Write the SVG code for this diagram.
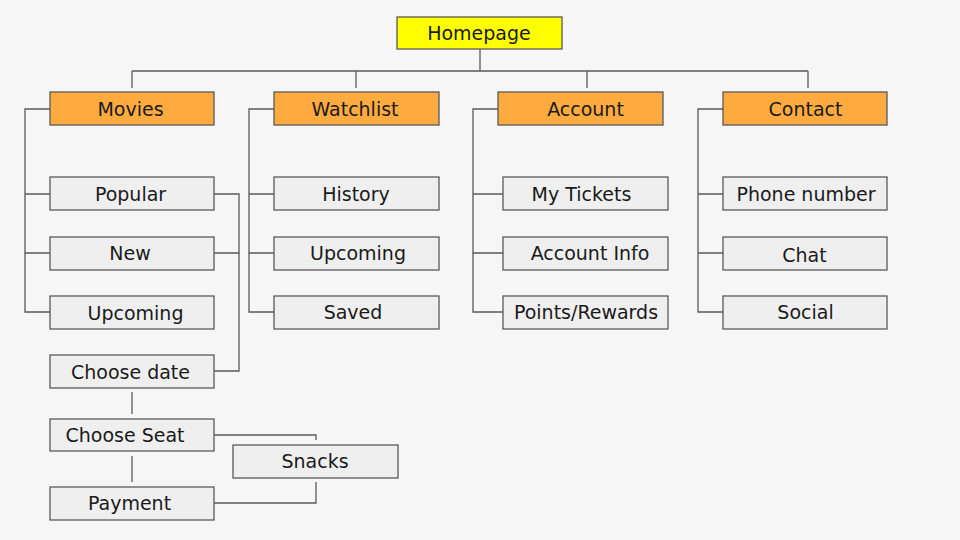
<svg xmlns="http://www.w3.org/2000/svg" width="960" height="540" viewBox="0 0 960 540">
<style>
.bg{fill:#f6f6f6}
.box{stroke:#595959;stroke-width:1.3}
.root{fill:#ffff00}
.cat{fill:#ffab40}
.item{fill:#efefef}
.lbl{font-family:"DejaVu Sans","Liberation Sans",sans-serif;font-size:19px;fill:#1a1a1a;text-anchor:middle}
#connectors path{fill:none;stroke:#595959;stroke-width:1.3}
</style>
<rect class="bg" x="0" y="0" width="960" height="540"/>
<g id="connectors">
<path d="M480,49 V71 M132,71 H808 M132,71 V88 M356,71 V88 M587,71 V88 M808,71 V88"/>
<path d="M50,109 H25 V312 H50 M25,194 H50 M25,253 H50"/>
<path d="M214,194 H239 V371 H214 M214,253 H239"/>
<path d="M132,392 V414 M132,456 V482"/>
<path d="M214,435 H316 V440 M316,482 V503 H214"/>
<path d="M274,109 H249 V312 H274 M249,194 H274 M249,253 H274"/>
<path d="M498,109 H473 V312 H503 M473,194 H503 M473,253 H503"/>
<path d="M723,109 H698 V312 H723 M698,194 H723 M698,253 H723"/>
</g>
<g id="homepage"><rect class="box root" x="397" y="17" width="165" height="32"/><text class="lbl" x="479" y="40">Homepage</text></g>
<g id="movies"><rect class="box cat" x="50" y="92" width="164" height="33"/><text class="lbl" x="130.5" y="115.5">Movies</text></g>
<g id="watchlist"><rect class="box cat" x="274" y="92" width="165" height="33"/><text class="lbl" x="355" y="115.5">Watchlist</text></g>
<g id="account"><rect class="box cat" x="498" y="92" width="165" height="33"/><text class="lbl" x="585.5" y="115.5">Account</text></g>
<g id="contact"><rect class="box cat" x="723" y="92" width="164" height="33"/><text class="lbl" x="805.5" y="115.5">Contact</text></g>
<g id="popular"><rect class="box item" x="50" y="177" width="164" height="33"/><text class="lbl" x="130.5" y="200.5">Popular</text></g>
<g id="new"><rect class="box item" x="50" y="237" width="164" height="33"/><text class="lbl" x="130" y="260">New</text></g>
<g id="movies-upcoming"><rect class="box item" x="50" y="296" width="164" height="33"/><text class="lbl" x="135.5" y="319.5">Upcoming</text></g>
<g id="choose-date"><rect class="box item" x="50" y="355" width="164" height="33"/><text class="lbl" x="130.5" y="378.5">Choose date</text></g>
<g id="choose-seat"><rect class="box item" x="50" y="419" width="164" height="32"/><text class="lbl" x="125" y="442">Choose Seat</text></g>
<g id="snacks"><rect class="box item" x="233" y="445" width="165" height="33"/><text class="lbl" x="315" y="468">Snacks</text></g>
<g id="payment"><rect class="box item" x="50" y="487" width="164" height="33"/><text class="lbl" x="129.5" y="510">Payment</text></g>
<g id="history"><rect class="box item" x="274" y="177" width="165" height="33"/><text class="lbl" x="356" y="200.5">History</text></g>
<g id="watchlist-upcoming"><rect class="box item" x="274" y="237" width="165" height="33"/><text class="lbl" x="358" y="260">Upcoming</text></g>
<g id="saved"><rect class="box item" x="274" y="296" width="165" height="33"/><text class="lbl" x="353" y="319">Saved</text></g>
<g id="my-tickets"><rect class="box item" x="503" y="177" width="165" height="33"/><text class="lbl" x="581.5" y="200.5">My Tickets</text></g>
<g id="account-info"><rect class="box item" x="503" y="237" width="165" height="33"/><text class="lbl" x="590" y="260">Account Info</text></g>
<g id="points-rewards"><rect class="box item" x="503" y="296" width="165" height="33"/><text class="lbl" x="586" y="319">Points/Rewards</text></g>
<g id="phone-number"><rect class="box item" x="723" y="177" width="164" height="33"/><text class="lbl" x="806" y="200.5">Phone number</text></g>
<g id="chat"><rect class="box item" x="723" y="237" width="164" height="33"/><text class="lbl" x="804.5" y="261.5">Chat</text></g>
<g id="social"><rect class="box item" x="723" y="296" width="164" height="33"/><text class="lbl" x="805.5" y="319">Social</text></g>
</svg>
